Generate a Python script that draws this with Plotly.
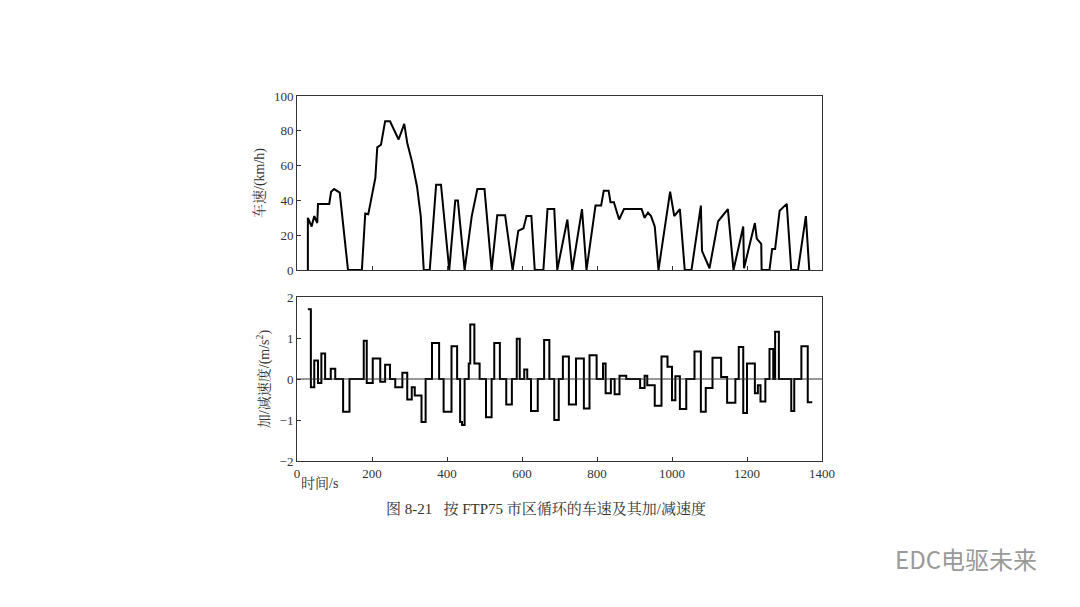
import plotly.graph_objects as go

# FTP75 speed profile (km/h)
speed_t = [29, 29, 39, 46, 54, 56, 86, 91, 99, 114, 136, 173, 182, 190, 209, 214, 224, 235, 248, 271,
           286, 294, 307, 320, 330, 338, 354, 371, 384, 406, 422, 429, 447, 461, 466, 481, 500, 519,
           534, 555, 575, 590, 604, 612, 625, 634, 657, 668, 686, 694, 721, 734, 760, 772, 796, 811,
           818, 831, 836, 845, 859, 872, 919, 927, 936, 944, 954, 964, 995, 1006, 1021, 1034, 1052,
           1077, 1080, 1100, 1123, 1149, 1164, 1190, 1192, 1221, 1226, 1238, 1239, 1260, 1267, 1275,
           1287, 1306, 1318, 1336, 1357, 1366]
speed_v = [0, 30, 25, 31, 27, 38, 38, 45, 46.5, 44.5, 0, 0, 32.5, 32, 53, 70.5, 72, 85.5, 85.5, 75,
           84, 73, 62, 48, 31, 0, 0, 49, 49, 0, 40, 40, 0, 21.5, 31, 46.5, 46.5, 0,
           31.5, 31.5, 0, 22.5, 24, 31, 31, 0, 0, 35, 35, 0, 29, 0, 35, 0, 37, 37,
           45.5, 45.5, 39, 39, 29, 35, 35, 30, 33, 31, 25, 0, 45, 31, 35, 0, 0,
           37, 11, 1, 28, 35, 0, 25, 1, 27, 18, 15, 0, 0, 12, 12,
           34, 38, 0, 0, 31, 0]

# acceleration steps (m/s^2), value holds from t until next t
acc_t = [29, 37, 46, 56, 65, 75, 90, 102, 123, 140, 178, 186, 202, 222, 235, 248, 262, 281, 294, 306,
         314, 332, 343, 360, 379, 391, 412, 427, 435, 440, 447, 458, 462, 473, 487, 504, 519, 526, 541,
         558, 573, 586, 594, 606, 614, 624, 642, 659, 673, 686, 698, 709, 725, 744, 765, 780, 799, 816,
         823, 837, 847, 860, 878, 915, 927, 934, 954, 972, 988, 1000, 1009, 1021, 1038, 1060, 1077,
         1090, 1108, 1131, 1147, 1169, 1178, 1190, 1200, 1221, 1229, 1236, 1249, 1260, 1270, 1275,
         1285, 1318, 1326, 1345, 1362, 1374]
acc_v = [1.7, -0.2, 0.45, -0.1, 0.62, 0, 0.25, 0, -0.8, 0, 0.93, -0.1, 0.5, -0.07, 0.35, 0, -0.2, 0.15,
         -0.5, -0.2, -0.4, -1.05, 0, 0.88, 0, -0.8, 0.8, 0, -1.05, -1.12, 0, 0.38, 1.33, 0.38, 0, -0.93,
         0, 0.88, 0, -0.62, 0, 0.98, 0, 0.23, 0, -0.78, 0, 0.95, 0, -1.0, 0, 0.55, -0.62, 0.5, -0.72,
         0.58, 0, 0.38, -0.35, 0, -0.37, 0.08, 0, -0.22, 0.08, -0.15, -0.65, 0.55, 0.3, -0.52, 0.07,
         -0.73, 0, 0.67, -0.8, -0.22, 0.52, 0.05, -0.58, 0, 0.78, -0.83, 0.38, -0.35, -0.15, -0.55, 0,
         0.73, 0, 1.15, 0, -0.78, 0, 0.8, -0.57, -0.57]

serif = "Liberation Serif, Noto Serif CJK SC, Noto Sans CJK SC, serif"
W, H = 1080, 607
DX, DY = 7, 8  # page offset seen in the screenshot


def px(x):
    return (x - DX) / W


def py(y):
    return 1 - (y - DY) / H


fig = go.Figure()
fig.add_trace(go.Scatter(x=speed_t, y=speed_v, mode='lines', line=dict(color='black', width=2),
                         xaxis='x', yaxis='y', showlegend=False))
fig.add_trace(go.Scatter(x=acc_t, y=acc_v, mode='lines', line=dict(color='black', width=2, shape='hv'),
                         xaxis='x2', yaxis='y2', showlegend=False))

ax_common = dict(showline=True, mirror=True, linecolor='#333', linewidth=1, ticks='inside',
                 ticklen=4, tickcolor='#333', showgrid=False, zeroline=False, automargin=False,
                 tickfont=dict(family=serif, size=13, color='#333'))
xd = [px(296), px(821)]
tfont = dict(family=serif, size=14, color='#333')

fig.update_layout(
    width=W, height=H,
    margin=dict(l=0, r=0, t=0, b=0),
    plot_bgcolor='white', paper_bgcolor='white',
    xaxis=dict(domain=xd, range=[0, 1400], dtick=200, showticklabels=False, anchor='y', **ax_common),
    yaxis=dict(domain=[py(270), py(96)], range=[0, 100], dtick=20, anchor='x',
               title=dict(text='车速/(km/h)', font=tfont, standoff=6), **ax_common),
    xaxis2=dict(domain=xd, range=[0, 1400], dtick=200, anchor='y2', **ax_common),
    yaxis2=dict(domain=[py(461), py(297)], range=[-2, 2], dtick=1, anchor='x2',
                title=dict(text='加/减速度/(m/s<sup>2</sup>)', font=tfont, standoff=6), **ax_common),
    shapes=[dict(type='line', xref='x2', yref='y2', x0=0, x1=1400, y0=0, y1=0,
                 line=dict(color='#333', width=1))],
    annotations=[
        dict(text='时间/s', xref='paper', yref='paper', x=px(318), y=py(483), xanchor='center',
             yanchor='middle', showarrow=False, font=tfont),
        dict(text='图 8-21   按 FTP75 市区循环的车速及其加/减速度', xref='paper', yref='paper',
             x=px(545), y=py(508), xanchor='center', yanchor='middle', showarrow=False,
             font=dict(family=serif, size=15, color='#333')),
        dict(text='EDC电驱未来', xref='paper', yref='paper', x=px(965), y=py(558), xanchor='center',
             yanchor='middle', showarrow=False, font=dict(family='Noto Sans CJK SC', size=24, color='#999')),
    ],
)

fig.write_html("out.html")
